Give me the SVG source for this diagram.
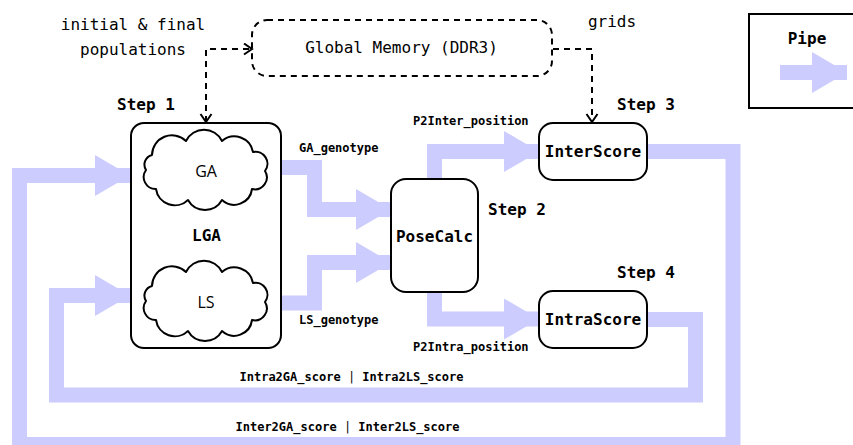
<svg xmlns="http://www.w3.org/2000/svg" width="853" height="445" viewBox="0 0 853 445">
  <defs>
    <style>
      .pipe { fill: none; stroke: #ccccff; stroke-width: 15; stroke-linejoin: miter; stroke-linecap: butt; }
      .box { fill: #ffffff; stroke: #000000; stroke-width: 2; }
      .cloud { fill: #ffffff; stroke: #000000; stroke-width: 2; stroke-linejoin: round; }
      .dash { fill: none; stroke: #000000; stroke-width: 2; stroke-dasharray: 6 5; }
      .mono { font-family: "DejaVu Sans Mono", "Liberation Mono", monospace; fill: #000000; }
      .lbl { font-size: 12px; font-weight: bold; }
      .big { font-size: 16px; }
      .b { font-weight: bold; }
      .sans { font-family: "Open Sans", "DejaVu Sans", sans-serif; font-size: 16px; fill: #000000; }
    </style>
    <marker id="head" markerUnits="userSpaceOnUse" markerWidth="36" markerHeight="42" refX="35" refY="20.5" orient="auto">
      <path d="M0,0 L35,20.5 L0,41 Z" fill="#ccccff"/>
    </marker>
    <marker id="open" markerUnits="userSpaceOnUse" markerWidth="12" markerHeight="14" refX="9" refY="6.5" orient="auto-start-reverse">
      <path d="M1,1 L9,6.5 L1,12" fill="none" stroke="#000000" stroke-width="2"/>
    </marker>
    <path id="cloudShape" d="M152,155 A20,20 0 0 1 186,141 A20,20 0 0 1 222,141 A19,19 0 0 1 253,152 A12,12 0 0 1 265,171 A12,12 0 0 1 252,189 A18,18 0 0 1 222,200 A19.5,19.5 0 0 1 188,200 A19,19 0 0 1 156,189 A12,12 0 0 1 146,170 A10,10 0 0 1 152,155 Z"/>
  </defs>

  <!-- data pipes and memory links -->
  <g id="connectors">
    <polyline class="pipe" points="280,167.5 314.5,167.5 314.5,209.5 391,209.5" marker-end="url(#head)"/>
    <polyline class="pipe" points="280,303 314.5,303 314.5,262.5 391,262.5" marker-end="url(#head)"/>
    <polyline class="pipe" points="434.5,179 434.5,151.5 539,151.5" marker-end="url(#head)"/>
    <polyline class="pipe" points="434.5,292 434.5,319 539,319" marker-end="url(#head)"/>
    <polyline class="pipe" points="647,319.5 695.5,319.5 695.5,395 56.5,395 56.5,295.5 130,295.5" marker-end="url(#head)"/>
    <polyline class="pipe" points="647,151.5 733,151.5 733,444.5 19.5,444.5 19.5,175.5 130,175.5" marker-end="url(#head)"/>
    <path class="dash" d="M206,122 V49 H252" marker-start="url(#open)" marker-end="url(#open)"/>
    <path class="dash" d="M553,49 H592 V122" marker-end="url(#open)"/>

    <text class="mono lbl" x="299" y="152">GA_genotype</text>
    <text class="mono lbl" x="299" y="324">LS_genotype</text>
    <text class="mono lbl" x="413" y="125">P2Inter_position</text>
    <text class="mono lbl" x="413" y="351">P2Intra_position</text>
    <text class="mono lbl" x="351.5" y="381" text-anchor="middle">Intra2GA_score <tspan font-weight="normal">|</tspan> Intra2LS_score</text>
    <text class="mono lbl" x="347.5" y="431" text-anchor="middle">Inter2GA_score <tspan font-weight="normal">|</tspan> Inter2LS_score</text>
  </g>

  <g id="memory">
    <rect class="dash" x="252" y="20" width="300" height="56" rx="15"/>
    <text class="mono big" x="401.5" y="53" text-anchor="middle">Global Memory (DDR3)</text>
    <text class="mono big" x="133" y="30" text-anchor="middle">initial &amp; final</text>
    <text class="mono big" x="133" y="55" text-anchor="middle">populations</text>
    <text class="mono big" x="612" y="27" text-anchor="middle">grids</text>
  </g>

  <g id="lga">
    <rect class="box" x="131" y="123" width="150" height="225" rx="13"/>
    <text class="mono big b" x="117" y="110">Step 1</text>
    <text class="mono big b" x="206.5" y="241" text-anchor="middle">LGA</text>
    <g id="ga">
      <use href="#cloudShape" class="cloud"/>
      <text class="sans" x="206" y="177" text-anchor="middle">GA</text>
    </g>
    <g id="ls">
      <use href="#cloudShape" class="cloud" transform="translate(0,131)"/>
      <text class="sans" x="206" y="308" text-anchor="middle">LS</text>
    </g>
  </g>

  <g id="posecalc">
    <rect class="box" x="391" y="179" width="87" height="113" rx="15"/>
    <text class="mono big b" x="434.5" y="242" text-anchor="middle">PoseCalc</text>
    <text class="mono big b" x="488" y="215">Step 2</text>
  </g>

  <g id="interscore">
    <rect class="box" x="539" y="123" width="108" height="57" rx="14"/>
    <text class="mono big b" x="593" y="157" text-anchor="middle">InterScore</text>
    <text class="mono big b" x="617" y="110">Step 3</text>
  </g>

  <g id="intrascore">
    <rect class="box" x="539" y="291" width="108" height="57" rx="14"/>
    <text class="mono big b" x="593" y="325" text-anchor="middle">IntraScore</text>
    <text class="mono big b" x="617" y="278">Step 4</text>
  </g>

  <g id="legend">
    <rect class="box" x="749" y="14" width="130" height="94"/>
    <text class="mono big b" x="807" y="44" text-anchor="middle">Pipe</text>
    <polyline class="pipe" points="780,72.5 847,72.5" marker-end="url(#head)"/>
  </g>
</svg>
